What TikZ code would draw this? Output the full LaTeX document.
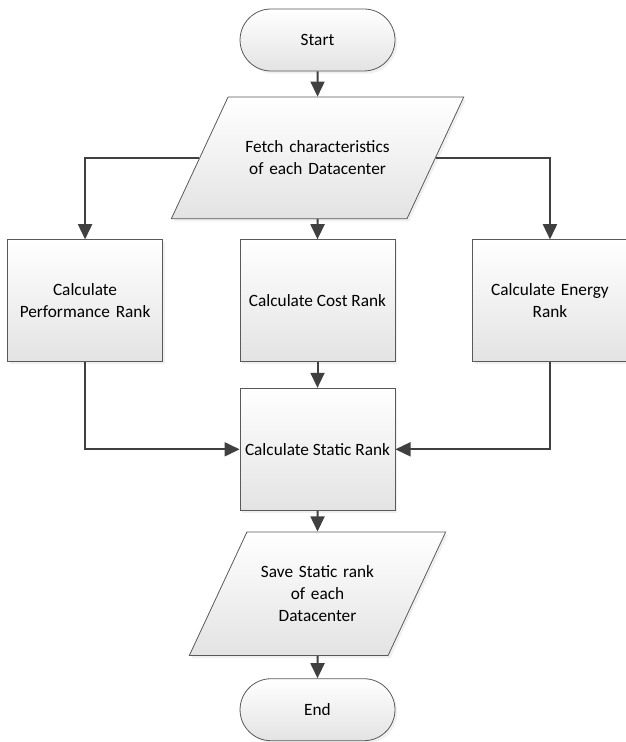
\documentclass[tikz,border=0pt]{standalone}
\usepackage{fontspec}
\setmainfont{Carlito}
\usetikzlibrary{shapes.geometric, arrows.meta, shadows}
\definecolor{linegray}{HTML}{404040}
\definecolor{edgegray}{HTML}{595959}
\tikzstyle{boxfill} = [top color=white, bottom color=black!11, draw=edgegray, line width=0.6pt, drop shadow={shadow xshift=0.6mm, shadow yshift=-0.7mm, opacity=0.12}]
\tikzstyle{startstop} = [rectangle, rounded corners=0.82cm, minimum width=4.1cm, minimum height=1.64cm, text centered, boxfill]
\tikzstyle{io} = [trapezium, trapezium left angle=65, trapezium right angle=115, trapezium stretches body, inner ysep=0pt, text centered, boxfill]
\tikzstyle{process} = [rectangle, minimum width=4.1cm, minimum height=3.23cm, text centered, boxfill]
\tikzstyle{arrow} = [-{Triangle[length=4mm, width=3.7mm]}, line width=1.5pt, draw=linegray]

\begin{document}
\begin{tikzpicture}[font=\fontsize{13pt}{16.3pt}\selectfont]
		\useasboundingbox (-8.401,1.058) rectangle (8.136,-18.574);
		\node (start) [startstop] {Start};
		\node (fetch) [io, below of=start, yshift=-2.12cm, minimum width=7.14cm, text width=4.5cm, text height=42pt, text depth=49.6pt] {Fetch characteristics\\of each Datacenter};
		\node (cost) [process, below of=fetch, yshift=-2.78cm] {Calculate Cost Rank};
		\node (perf) [process, left of=cost, xshift=-5.15cm, text width=3.8cm] {Calculate\\Performance Rank};
		\node (energy) [process, right of=cost, xshift=5.15cm, text width=3.8cm] {Calculate Energy\\Rank};
		\node (static) [process, below of=cost, yshift=-2.93cm] {Calculate Static Rank};
		\node (save) [io, below of=static, yshift=-2.82cm, minimum width=6.0cm, text width=3.5cm, text height=34.5pt, text depth=58.5pt] {Save Static rank\\of each\\Datacenter};
		\node (end) [startstop, below of=save, yshift=-2.07cm] {End};
		
		\draw [arrow](start) -- (fetch);
		\draw [arrow](fetch) -- (cost);
		\draw [arrow](fetch.west) -| (perf.north);
		\draw [arrow](fetch.east) -| (energy.north);
		\draw [arrow](cost) -- (static);
		\draw [arrow](perf.south) |- (static.west);
		\draw [arrow](energy.south) |- (static.east);
		\draw [arrow](static) -- (save);
		\draw [arrow](save) -- (end);
	\end{tikzpicture}
\end{document}
